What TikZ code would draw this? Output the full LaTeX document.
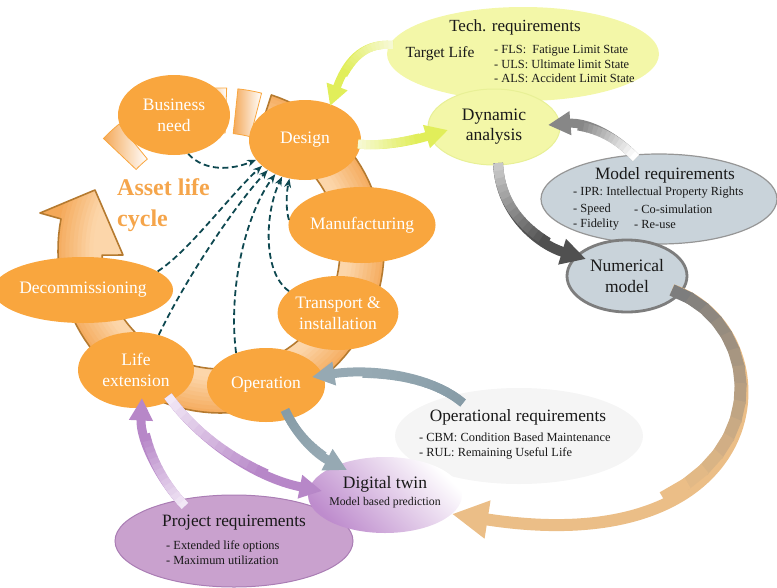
\documentclass[tikz,border=0pt]{standalone}
\usepackage{fontspec}
\setmainfont{Liberation Serif}
\usetikzlibrary{shapes.geometric,arrows.meta,calc}
\definecolor{orng}{RGB}{249,166,62}
\definecolor{ringlight}{RGB}{252,214,170}
\definecolor{ringorange}{RGB}{244,168,88}
\definecolor{ringbrown}{RGB}{181,122,47}
\definecolor{dashteal}{RGB}{14,72,80}
\definecolor{techyel}{RGB}{243,247,168}
\definecolor{techedge}{RGB}{232,240,150}
\definecolor{modgray}{RGB}{201,211,218}
\definecolor{modedge}{RGB}{150,150,150}
\definecolor{numedge}{RGB}{125,125,125}
\definecolor{opgray}{RGB}{245,245,245}
\definecolor{projpur}{RGB}{201,161,206}
\definecolor{projedge}{RGB}{170,125,180}
\definecolor{twinpur}{RGB}{190,140,205}
\definecolor{assetc}{RGB}{245,165,75}
\definecolor{ygreen}{RGB}{225,238,90}
\definecolor{ypale}{RGB}{246,249,210}
\definecolor{grayA}{RGB}{135,135,135}
\definecolor{dgray}{RGB}{80,80,80}
\definecolor{lgray}{RGB}{200,200,200}
\definecolor{tanc}{RGB}{235,190,135}
\definecolor{grfive}{RGB}{125,125,125}
\definecolor{bluegA}{RGB}{135,156,167}
\definecolor{bluegB}{RGB}{150,169,179}
\definecolor{purA}{RGB}{183,135,200}
\definecolor{purpale}{RGB}{242,232,246}
\definecolor{txt}{RGB}{25,25,25}

\newcommand\bezpt[6]{%
  \path ($(#2)!#1!(#3)$) coordinate (bzA) ($(#3)!#1!(#4)$) coordinate (bzB) ($(#4)!#1!(#5)$) coordinate (bzC);
  \path ($(bzA)!#1!(bzB)$) coordinate (bzD) ($(bzB)!#1!(bzC)$) coordinate (bzE);
  \path ($(bzD)!#1!(bzE)$) coordinate (#6);
}
\newcommand\gradarrow[8]{%
  \draw[line width=#7, draw=#6, -{Triangle[length=0pt #8, width=0pt #8]}] (#1) .. controls (#2) and (#3) .. (#4);
  \foreach \k in {0,...,13}{%
    \pgfmathsetmacro\gta{\k*0.05}%
    \pgfmathsetmacro\gtb{\k*0.05+0.058}%
    \pgfmathtruncatemacro\gpc{\k*100/13}%
    \bezpt{\gta}{#1}{#2}{#3}{#4}{ga}%
    \bezpt{\gtb}{#1}{#2}{#3}{#4}{gb}%
    \draw[line width=#7, draw=#6!\gpc!#5] (ga) -- (gb);
  }%
}

\begin{document}
\begin{tikzpicture}[x=1pt,y=-1pt,
  lifenode/.style={ellipse, fill=orng, draw=none, text=white, inner sep=0pt,
    font=\fontsize{17.5}{21}\selectfont, align=center},
  dasharrow/.style={draw=dashteal, line width=1.8pt, dash pattern=on 6pt off 3.5pt,
    -{Stealth[length=9pt,width=7pt]}},
  titletext/.style={font=\fontsize{17.3}{20}\selectfont, text=txt, inner sep=0pt},
  listtext/.style={font=\fontsize{12.4}{14.8}\selectfont, text=txt, align=left, inner sep=0pt, anchor=west},
  darknode/.style={ellipse, inner sep=0pt, text=txt, font=\fontsize{17.5}{21}\selectfont, align=center}
]
\useasboundingbox (0,0) rectangle (777,587);

% ---------- life cycle ring ----------
\begin{scope}[shift={(221,250)}]
  \def\ringpath{plot[domain=-72:191,samples=90] (\x:163) -- (-181,-37) -- (-126,-60) -- (-98,5) -- plot[domain=177.5:-72,samples=90] (\x:119) -- cycle}
  \begin{scope}
    \clip \ringpath;
    \foreach \r in {90,94,...,194}{%
      \pgfmathtruncatemacro\rpc{max(0,min(100,(\r-128)*100/38))}%
      \draw[line width=4.6pt, draw=ringorange!\rpc!ringlight] (0,0) circle[radius=\r pt];
    }
  \end{scope}
  \draw[ringbrown, line width=1.6pt, line join=round] \ringpath;
  \foreach \a/\b in {223.5/231, -97/-88, -84/-75.5}{%
    \draw[draw=orng, line width=0.8pt, left color=ringorange, right color=white]
      plot[domain=\a:\b,samples=10] (\x:162) -- plot[domain=\b:\a,samples=10] (\x:117) -- cycle;
  }
\end{scope}

% ---------- life cycle stages ----------
\node[lifenode, minimum width=112pt, minimum height=80pt] (business) at (174,115) {Business\\need};
\node[lifenode, minimum width=112pt, minimum height=80pt] (design) at (305,140) {Design};
\node[lifenode, minimum width=130pt, minimum height=76pt] (manuf) at (362,225) {Manufacturing};
\node[lifenode, minimum width=114pt, minimum height=74pt] (transport) at (338,313) {Transport \&\\installation};
\node[lifenode, minimum width=146pt, minimum height=66pt] (decom) at (83,290) {Decommissioning};
\node[lifenode, minimum width=116pt, minimum height=76pt] (lifeext) at (136,370) {Life\\extension};
\node[lifenode, minimum width=118pt, minimum height=74pt] (operation) at (266,385) {Operation};

\node[font=\bfseries\fontsize{24}{31}\selectfont, text=assetc, align=left, anchor=west, inner sep=0pt] (asset) at (117,205) {Asset life\\cycle};

% ---------- dashed feedback arrows ----------
\draw[dasharrow] (business.-70) .. controls (205,172) and (232,170) .. (design.202);
\draw[dasharrow] (decom.14) .. controls (190,250) and (230,195) .. (design.211);
\draw[dasharrow] (lifeext.57) .. controls (185,280) and (235,205) .. (design.219);
\draw[dasharrow] (operation.133) .. controls (228,290) and (245,215) .. (design.229);
\draw[dasharrow] (transport.156) .. controls (262,272) and (265,212) .. (design.238);
\draw[dasharrow] (manuf.176) .. controls (286,210) and (286,195) .. (design.248);

% ---------- requirement ellipses ----------
\node[ellipse, fill=techyel, draw=none, minimum width=272pt, minimum height=94pt] (tech) at (523,54) {};
\node[titletext, font=\fontsize{17}{20}\selectfont] (techtitle) at (515,27) {Tech. requirements};
\node[font=\fontsize{15.5}{18}\selectfont, text=txt, inner sep=0pt] (target) at (440,54) {Target Life};
\node[listtext] (techlist) at (494,64) {- FLS:\ \ Fatigue Limit State\\- ULS: Ultimate limit State\\- ALS: Accident Limit State};

\node[darknode, fill=techyel, draw=techedge, line width=1pt, minimum width=132pt, minimum height=76pt, font=\fontsize{17.5}{20}\selectfont] (dynamic) at (494,127) {Dynamic\\analysis};

\node[ellipse, fill=modgray, draw=modedge, line width=1.2pt, minimum width=236pt, minimum height=90pt] (modreq) at (659,199) {};
\node[titletext] (modtitle) at (665,175) {Model requirements};
\node[listtext] (modipr) at (573,193) {- IPR: Intellectual Property Rights};
\node[listtext] (modcolA) at (573,217) {- Speed\\- Fidelity};
\node[listtext] (modcolB) at (634,217) {- Co-simulation\\- Re-use};

\node[darknode, fill=modgray, draw=numedge, line width=2.8pt, minimum width=120pt, minimum height=72pt] (numerical) at (627,276) {Numerical\\model};

\node[ellipse, fill=opgray, draw=none, minimum width=248pt, minimum height=96pt] (opreq) at (519,436) {};
\node[titletext] (optitle) at (518,417) {Operational requirements};
\node[listtext] (oplist) at (419,446) {- CBM: Condition Based Maintenance\\- RUL: Remaining Useful Life};

\node[ellipse, fill=projpur, draw=projedge, line width=1pt, minimum width=238pt, minimum height=92pt] (projreq) at (234,541) {};
\node[titletext] (projtitle) at (234,523) {Project requirements};
\node[listtext] (projlist) at (166,553) {- Extended life options\\- Maximum utilization};

\node[ellipse, draw=none, top color=white, middle color=twinpur!35!white, bottom color=twinpur, shading angle=-45,
  minimum width=154pt, minimum height=76pt] (twin) at (385,495) {};
\node[titletext, font=\fontsize{17.5}{20}\selectfont] (twintitle) at (385,484) {Digital twin};
\node[font=\fontsize{11.8}{14}\selectfont, text=txt, inner sep=0pt] (twinsub) at (385,503) {Model based prediction};

% ---------- block arrows ----------
\coordinate (a1s) at (393,45);  \coordinate (a1a) at (360,42);  \coordinate (a1b) at (345,65);  \coordinate (a1e) at (330,106);
\coordinate (a2s) at (358,144); \coordinate (a2a) at (385,147); \coordinate (a2b) at (415,140); \coordinate (a2e) at (448,130);
\coordinate (a3s) at (636,158); \coordinate (a3a) at (612,133); \coordinate (a3b) at (585,122); \coordinate (a3e) at (548,125);
\coordinate (a4s) at (498,163); \coordinate (a4a) at (500,215); \coordinate (a4b) at (540,245); \coordinate (a4e) at (586,259);
\coordinate (a5s) at (672,290); \coordinate (a5a) at (790,330); \coordinate (a5b) at (780,565); \coordinate (a5e) at (452,514);
\coordinate (a6s) at (463,403); \coordinate (a6a) at (430,375); \coordinate (a6b) at (370,368); \coordinate (a6e) at (312,377);
\coordinate (a7s) at (285,410); \coordinate (a7a) at (298,438); \coordinate (a7b) at (318,455); \coordinate (a7e) at (347,470);
\coordinate (a8s) at (168,396); \coordinate (a8a) at (200,440); \coordinate (a8b) at (255,478); \coordinate (a8e) at (322,491);
\coordinate (a9s) at (185,506); \coordinate (a9a) at (160,480); \coordinate (a9b) at (140,440); \coordinate (a9e) at (142,398);

\gradarrow{a1s}{a1a}{a1b}{a1e}{ypale}{ygreen}{8pt}{2.6}
\gradarrow{a2s}{a2a}{a2b}{a2e}{ypale}{ygreen}{9pt}{2.5}
\gradarrow{a3s}{a3a}{a3b}{a3e}{white}{grayA}{9pt}{2.5}
\gradarrow{a4s}{a4a}{a4b}{a4e}{lgray}{dgray}{10pt}{2.5}
\gradarrow{a5s}{a5a}{a5b}{a5e}{grfive}{tanc}{12pt}{3}
\gradarrow{a6s}{a6a}{a6b}{a6e}{bluegA}{bluegB}{9pt}{2.5}
\gradarrow{a7s}{a7a}{a7b}{a7e}{bluegA}{bluegB}{9pt}{2.5}
\gradarrow{a8s}{a8a}{a8b}{a8e}{purpale}{purA}{9pt}{2.5}
\gradarrow{a9s}{a9a}{a9b}{a9e}{purpale}{purA}{9pt}{2.5}
\end{tikzpicture}
\end{document}
